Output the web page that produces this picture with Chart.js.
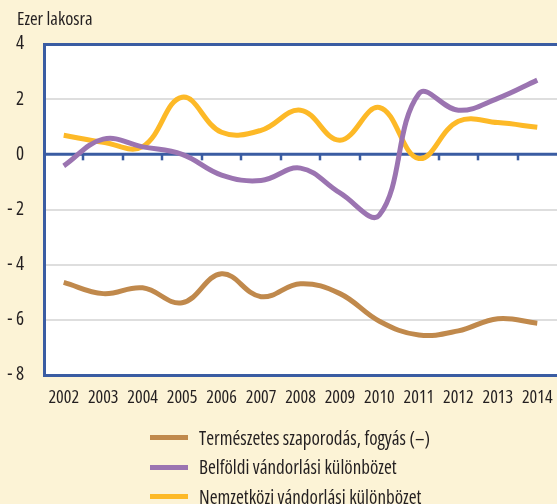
<!DOCTYPE html>
<html>
<head>
<meta charset="utf-8">
<script src="https://cdn.jsdelivr.net/npm/chart.js@4"></script>
<style>
  html, body { margin: 0; padding: 0; background: #fcf3d6; }
  #wrap { position: relative; width: 557px; height: 504px; }
  #legend { position: absolute; left: 150px; top: 423px; font-family: "Open Sans", sans-serif; font-stretch: 75%; font-size: 19px; color: #231f20; }
  .row { display: flex; align-items: center; height: 29.5px; }
  .sw { width: 38px; height: 5px; margin-right: 11px; }
</style>
</head>
<body>
<div id="wrap">
  <canvas id="c" width="557" height="504"></canvas>
  <div id="legend"></div>
</div>
<script>
// years on x axis
const years = ["2002", "2003", "2004", "2005", "2006", "2007", "2008", "2009", "2010", "2011", "2012", "2013", "2014"];
// values in thousand inhabitants
const termeszetes = [-4.64, -5.05, -4.84, -5.38, -4.33, -5.16, -4.69, -5.05, -6.05, -6.55, -6.4, -5.96, -6.12];
const belfoldi = [-0.42, 0.55, 0.27, 0.0, -0.75, -0.95, -0.5, -1.4, -2.2, 2.2, 1.6, 2.03, 2.69];
const nemzetkozi = [0.69, 0.44, 0.28, 2.07, 0.8, 0.87, 1.6, 0.51, 1.7, -0.15, 1.2, 1.15, 0.98];
const yTicks = [4, 2, 0, -2, -4, -6, -8];

const BLUE = "#3a5ca2";
const FAMILY = "'Open Sans', sans-serif";
// "condensed" goes into the canvas font string in front of the size
const TICK_FONT = { family: FAMILY, size: 18, weight: "condensed" };

const series = [
  { label: "Természetes szaporodás, fogyás (–)", data: termeszetes, color: "#c0894c" },
  { label: "Belföldi vándorlási különbözet", data: belfoldi, color: "#9b74b1" },
  { label: "Nemzetközi vándorlási különbözet", data: nemzetkozi, color: "#fdb927" },
];

// white plot area, zero line with small ticks, unit label
const decor = {
  id: "decor",
  beforeDraw(chart) {
    const { ctx, chartArea: a } = chart;
    ctx.save();
    ctx.fillStyle = "#ffffff";
    ctx.fillRect(a.left, a.top, a.right - a.left, a.bottom - a.top);
    ctx.fillStyle = "#231f20";
    ctx.font = "condensed 18.5px " + FAMILY;
    ctx.textBaseline = "middle";
    ctx.fillText("Ezer lakosra", 17, 20);
    ctx.restore();
  },
  beforeDatasetsDraw(chart) {
    const { ctx, chartArea: a, scales: { x, y } } = chart;
    const y0 = y.getPixelForValue(0);
    ctx.save();
    ctx.strokeStyle = BLUE;
    ctx.lineWidth = 3;
    ctx.beginPath();
    ctx.moveTo(a.left, y0);
    ctx.lineTo(a.right, y0);
    ctx.stroke();
    ctx.lineWidth = 2.5;
    for (let i = 0; i < years.length - 1; i++) {
      const px = Math.round((x.getPixelForValue(i) + x.getPixelForValue(i + 1)) / 2);
      ctx.beginPath();
      ctx.moveTo(px, y0);
      ctx.lineTo(px, y0 + 6);
      ctx.stroke();
    }
    ctx.restore();
  },
};

new Chart(document.getElementById("c"), {
  type: "line",
  data: {
    labels: years,
    datasets: series.map((s) => ({
      label: s.label,
      data: s.data,
      borderColor: s.color,
      backgroundColor: s.color,
      borderWidth: 5,
      pointRadius: 0,
      tension: 0.4,
      fill: false,
    })),
  },
  options: {
    responsive: false,
    animation: false,
    layout: { padding: { top: 44, right: 0, bottom: 99, left: 0 } },
    plugins: { legend: { display: false }, tooltip: { enabled: false } },
    scales: {
      x: {
        offset: true,
        grid: { display: false, drawTicks: false },
        border: { display: true, color: BLUE, width: 3 },
        ticks: { color: "#231f20", font: TICK_FONT, padding: 12, maxRotation: 0, autoSkip: false },
        afterFit(scale) {
          scale.height = 30;
          scale.paddingLeft = 0;
          scale.paddingRight = 0;
        },
      },
      y: {
        min: -8,
        max: 4,
        afterBuildTicks(scale) { scale.ticks = yTicks.map((v) => ({ value: v })); },
        grid: {
          drawTicks: false,
          color: (c) => (c.tick.value === 4 || c.tick.value === -8 ? BLUE : c.tick.value === 0 ? "rgba(0,0,0,0)" : "#dedede"),
          lineWidth: (c) => (c.tick.value === 4 || c.tick.value === -8 ? 3 : 2),
        },
        border: { display: true, color: BLUE, width: 3 },
        ticks: {
          color: "#231f20",
          font: { family: FAMILY, size: 19, weight: "condensed" },
          padding: 20,
          callback: (v) => (v < 0 ? "- " + Math.abs(v) : String(v)),
        },
        afterFit(scale) {
          scale.width = 44;
          scale.paddingTop = 0;
          scale.paddingBottom = 0;
        },
      },
    },
  },
  plugins: [decor],
});

// legend as a vertical list under the chart
document.getElementById("legend").innerHTML = series
  .map((s) => `<div class="row"><div class="sw" style="background:${s.color}"></div>${s.label}</div>`)
  .join("");
</script>
</body>
</html>
